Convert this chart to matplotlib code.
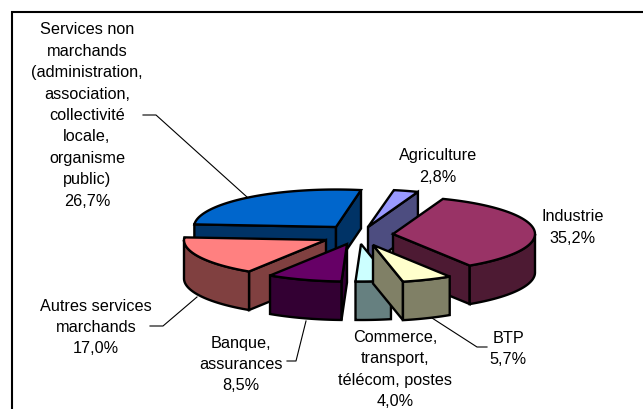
import matplotlib
matplotlib.use('Agg')
import matplotlib.pyplot as plt
from matplotlib.patches import Polygon
import numpy as np

plt.rcParams['font.family'] = ['Liberation Sans', 'DejaVu Sans']

# clockwise order, as in the source sheet
names = ['Agriculture', 'Industrie', 'BTP', 'Commerce,\ntransport,\ntélécom, postes',
         'Banque,\nassurances', 'Autres services\nmarchands',
         'Services non\nmarchands\n(administration,\nassociation,\ncollectivité\nlocale,\norganisme\npublic)']
values = [2.8, 35.2, 5.7, 4.0, 8.5, 17.0, 26.7]
value_labels = ['2,8%', '35,2%', '5,7%', '4,0%', '8,5%', '17,0%', '26,7%']

top_colors = ['#9999FF', '#993366', '#FFFFCC', '#CCFFFF', '#660066', '#FF8080', '#0066CC']
wall_colors = ['#4D4D80', '#4D1A33', '#808066', '#668080', '#330033', '#804040', '#003366']

# pie geometry in pixels
START_ANGLE = 10.5
RX = 142
RY = 37.5
DEPTH = 38.5
apex = [(368, 228), (393, 235), (373, 246), (361, 245), (347, 245), (326, 241), (336, 228)]
draw_order = [6, 0, 1, 5, 4, 3, 2]

label_pos = [(438, 166.5), (573, 227.5), (508, 349), (395, 369.5), (241, 364.5), (96, 327.5), (87, 115.5)]
leaders = [
    [(143, 116), (156, 116), (247, 198)],
    [(150, 327), (163, 327), (197, 298)],
    [(287, 362), (296, 362), (306, 322)],
    [(487, 348), (477, 348), (432, 319)],
]


def arc(cx, cy, a, b, n=80):
    t = np.radians(np.linspace(a, b, n))
    return np.column_stack((cx + RX*np.sin(t), cy - RY*np.cos(t)))


def face(ax, pts, color):
    ax.add_patch(Polygon(pts, closed=True, facecolor=color, edgecolor='black',
                         linewidth=1.7, joinstyle='miter'))


def draw_slice(ax, i, a, b):
    cx, cy = apex[i]
    drop = np.array([0, DEPTH])

    # side walls, only those that face the viewer
    for ang, normal in ((a, a-90), (b, b+90)):
        if np.cos(np.radians(normal)) < 0:
            edge = np.array([[cx, cy], arc(cx, cy, ang, ang, 1)[0]])
            face(ax, np.vstack((edge, edge[::-1] + drop)), wall_colors[i])

    # rim, front half only
    lo, hi = max(a, 90), min(b, 270)
    if lo < hi:
        rim = arc(cx, cy, lo, hi)
        face(ax, np.vstack((rim, rim[::-1] + drop)), wall_colors[i])

    face(ax, np.vstack(([cx, cy], arc(cx, cy, a, b))), top_colors[i])


fig = plt.figure(figsize=(6.43, 4.10), dpi=100)
ax = fig.add_axes([0, 0, 1, 1])
ax.set_xlim(0, 643)
ax.set_ylim(410, 0)
ax.axis('off')

# chart frame is cut off by the picture on the right and at the bottom
ax.plot([12, 12, 645], [412, 13, 13], color='black', linewidth=1.5, solid_joinstyle='miter')

angles = START_ANGLE + np.concatenate(([0], np.cumsum(values))) * 3.6
for i in draw_order:
    draw_slice(ax, i, angles[i], angles[i+1])

for pts in leaders:
    xs, ys = zip(*pts)
    ax.plot(xs, ys, color='black', linewidth=0.8)

for i in range(len(names)):
    ax.text(label_pos[i][0], label_pos[i][1], names[i] + '\n' + value_labels[i],
            ha='center', va='center', multialignment='center', fontsize=11.7, linespacing=1.535)

fig.savefig('out.png', dpi=100)
